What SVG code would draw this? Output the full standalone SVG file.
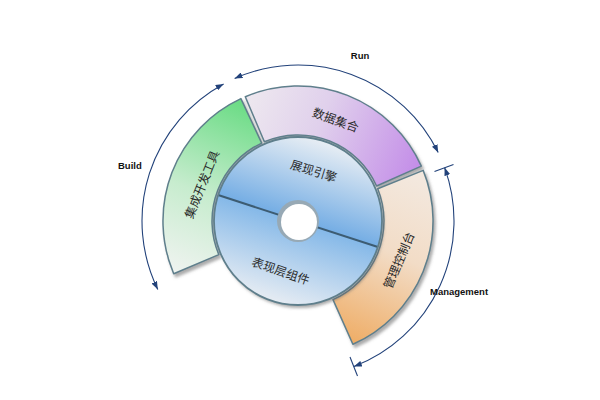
<svg xmlns="http://www.w3.org/2000/svg" width="600" height="400" viewBox="0 0 600 400">
<style>
.seg{stroke:#5f7f8c;stroke-width:1.5;stroke-linejoin:round}
.cjk{font-family:"Noto Sans CJK SC","Noto Sans",sans-serif;font-size:12px;fill:#2a2a2a;text-anchor:middle;dominant-baseline:central}
.lbl{font-family:"Liberation Sans",Arial,sans-serif;font-size:9.5px;font-weight:bold;fill:#111}
.arc{fill:none;stroke:#22427a;stroke-width:1.1}
</style>
<defs>
<filter id="sh" x="-20%" y="-20%" width="140%" height="140%">
<feDropShadow dx="2" dy="3" stdDeviation="1.5" flood-color="#666" flood-opacity="0.55"/>
</filter>
<linearGradient id="gGreen" gradientUnits="userSpaceOnUse" x1="175" y1="270" x2="245" y2="105">
<stop offset="0" stop-color="#eef3ef"/><stop offset="0.45" stop-color="#c7ecce"/><stop offset="1" stop-color="#6cdc86"/>
</linearGradient>
<linearGradient id="gPurple" gradientUnits="userSpaceOnUse" x1="250" y1="100" x2="420" y2="170">
<stop offset="0" stop-color="#ede7ef"/><stop offset="0.4" stop-color="#e0d0ec"/><stop offset="1" stop-color="#c38ce8"/>
</linearGradient>
<linearGradient id="gOrange" gradientUnits="userSpaceOnUse" x1="420" y1="180" x2="350" y2="340">
<stop offset="0" stop-color="#f3e8de"/><stop offset="0.45" stop-color="#f2dcc6"/><stop offset="1" stop-color="#efae68"/>
</linearGradient>
<linearGradient id="gUp" gradientUnits="userSpaceOnUse" x1="298" y1="221" x2="324" y2="141">
<stop offset="0" stop-color="#74ade4"/><stop offset="1" stop-color="#e8eef4"/>
</linearGradient>
<linearGradient id="gDown" gradientUnits="userSpaceOnUse" x1="298" y1="221" x2="272" y2="301">
<stop offset="0" stop-color="#84b8e8"/><stop offset="1" stop-color="#e6ecf3"/>
</linearGradient>
<marker id="ah" viewBox="0 0 8 6" refX="8" refY="3" markerWidth="8" markerHeight="6" markerUnits="userSpaceOnUse" orient="auto-start-reverse">
<path d="M0,0 L8,3 L0,6 Z" fill="#22427a"/>
</marker>
</defs>

<g id="connectors">
<path class="arc" d="M157.8,289.4 A156,156 0 0 1 223.6,83.9" marker-start="url(#ah)" marker-end="url(#ah)"/>
<path class="arc" d="M234.6,78.5 A156,156 0 0 1 438.2,152.6" marker-start="url(#ah)" marker-end="url(#ah)"/>
<path class="arc" d="M444.6,167.6 A156,156 0 0 1 353.9,366.6" marker-start="url(#ah)" marker-end="url(#ah)"/>
<line class="arc" x1="434.5" y1="171.5" x2="453.5" y2="164.5"/>
<line class="arc" x1="350" y1="357" x2="357.5" y2="376"/>
</g>

<g id="node-build">
<path class="seg" filter="url(#sh)" fill="url(#gGreen)" d="M218.8,254.6 L173.7,273.7 A135,135 0 0 1 240.9,98.6 L261.7,143.1 A86,86 0 0 0 218.8,254.6 Z"/>
<text class="cjk" transform="translate(201,184) rotate(-68)">集成开发工具</text>
</g>
<g id="node-data">
<path class="seg" filter="url(#sh)" fill="url(#gPurple)" d="M264.4,141.8 L245.3,96.7 A135,135 0 0 1 421.3,166.1 L376.6,186 A86,86 0 0 0 264.4,141.8 Z"/>
<text class="cjk" transform="translate(336,119) rotate(20)">数据集合</text>
</g>
<g id="node-console">
<path class="seg" filter="url(#sh)" fill="url(#gOrange)" d="M377.7,188.8 L423.2,170.4 A135,135 0 0 1 352.9,344.3 L333,299.6 A86,86 0 0 0 377.7,188.8 Z"/>
<text class="cjk" transform="translate(398,260) rotate(-67)">管理控制台</text>
</g>

<g id="node-core">
<circle cx="298" cy="221" r="84" fill="url(#gDown)" filter="url(#sh)"/>
<path d="M377.9,247 A84,84 0 0 0 218.1,195 Z" fill="url(#gUp)"/>
<line x1="218.1" y1="195" x2="377.9" y2="247" stroke="#3d5c72" stroke-width="2"/>
<circle cx="298" cy="221" r="84" fill="none" stroke="#5f7f8c" stroke-width="1.8"/>
<circle cx="298" cy="221" r="21" fill="#97a9b5"/>
<circle cx="299" cy="222" r="18" fill="#ffffff"/>
</g>
<g id="node-engine">
<text class="cjk" transform="translate(314,170) rotate(17)">展现引擎</text>
</g>
<g id="node-presentation">
<text class="cjk" transform="translate(281,270) rotate(19)">表现层组件</text>
</g>

<g id="labels">
<text class="lbl" x="360" y="59" text-anchor="middle">Run</text>
<text class="lbl" x="118" y="169">Build</text>
<text class="lbl" x="430" y="295">Management</text>
</g>
</svg>
